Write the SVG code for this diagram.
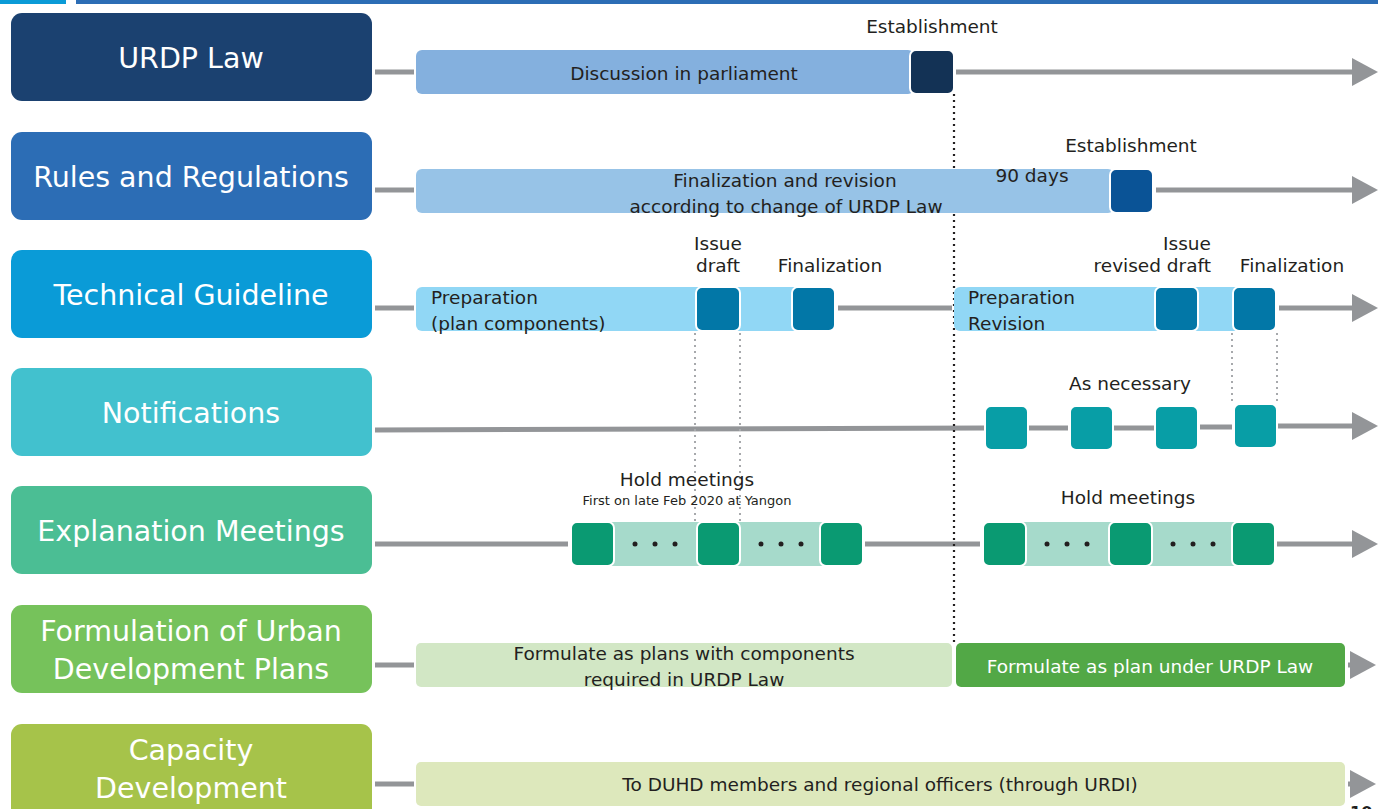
<svg xmlns="http://www.w3.org/2000/svg" width="1378" height="809" viewBox="0 0 1378 809">
<style>
.lbl{font-family:"DejaVu Sans","Noto Sans",sans-serif;font-size:28.5px;fill:#fff;text-anchor:middle;dominant-baseline:central}
.t{font-family:"DejaVu Sans","Noto Sans",sans-serif;font-size:18.5px;fill:#231F20;dominant-baseline:central}
.c{text-anchor:middle}
.ln{stroke:#939598;stroke-width:5;fill:none}
.sq{stroke:#fff;stroke-width:2}
.dot{fill:#231F20}
.gdot{stroke:#A7A9AC;stroke-width:2;stroke-dasharray:2 4;fill:none}
</style>
<defs>
<marker id="ah" viewBox="0 0 26 28" refX="0" refY="14" markerWidth="26" markerHeight="28" markerUnits="userSpaceOnUse" orient="auto">
<path d="M0,0 L26,14 L0,28 Z" fill="#939598"/>
</marker>
<marker id="bk" viewBox="0 0 14 14" refX="14" refY="7" markerWidth="14" markerHeight="14" markerUnits="userSpaceOnUse" orient="auto-start-reverse">
<path d="M0,0 L14,7 L0,14 Z" fill="#231F20"/>
</marker>
</defs>
<rect width="1378" height="809" fill="#fff"/>
<rect x="0" y="0" width="66" height="4" fill="#0A9BD7"/>
<rect x="76" y="0" width="1302" height="4" fill="#2C6DB5"/>

<g id="connectors">
<line class="ln" x1="375" y1="72" x2="414" y2="72"/>
<line class="ln" x1="956" y1="72" x2="1352" y2="72" marker-end="url(#ah)"/>
<line class="ln" x1="375" y1="190" x2="414" y2="190"/>
<line class="ln" x1="1156" y1="190" x2="1352" y2="190" marker-end="url(#ah)"/>
<line class="ln" x1="375" y1="308" x2="414" y2="308"/>
<line class="ln" x1="838" y1="308" x2="952" y2="308"/>
<line class="ln" x1="1279" y1="308" x2="1352" y2="308" marker-end="url(#ah)"/>
<line class="ln" x1="375" y1="430" x2="984" y2="428"/>
<line class="ln" x1="1029" y1="428" x2="1068" y2="428"/>
<line class="ln" x1="1114" y1="428" x2="1154" y2="428"/>
<line class="ln" x1="1200" y1="427" x2="1232" y2="427"/>
<line class="ln" x1="1278" y1="426" x2="1352" y2="426" marker-end="url(#ah)"/>
<line class="ln" x1="375" y1="544" x2="568" y2="544"/>
<line class="ln" x1="865" y1="544" x2="980" y2="544"/>
<line class="ln" x1="1277" y1="544" x2="1352" y2="544" marker-end="url(#ah)"/>
<line class="ln" x1="375" y1="665" x2="414" y2="665"/>
<line class="ln" x1="1348" y1="665" x2="1350" y2="665" marker-end="url(#ah)"/>
<line class="ln" x1="375" y1="784" x2="414" y2="784"/>
<line class="ln" x1="1348" y1="784" x2="1350" y2="784" marker-end="url(#ah)"/>
<line x1="954" y1="94" x2="954" y2="645" stroke="#231F20" stroke-width="2.2" stroke-dasharray="2 4"/>
<line class="gdot" x1="695" y1="333" x2="695" y2="521"/>
<line class="gdot" x1="740" y1="333" x2="740" y2="521"/>
<line class="gdot" x1="1232" y1="333" x2="1232" y2="404"/>
<line class="gdot" x1="1277" y1="333" x2="1277" y2="404"/>
<line x1="956" y1="200" x2="1108" y2="200" stroke="#231F20" stroke-width="2.5" marker-start="url(#bk)" marker-end="url(#bk)"/>
</g>

<g id="urdp-law">
<rect x="11" y="13" width="361" height="88" rx="11" fill="#1B4170"/>
<text class="lbl" x="191" y="58">URDP Law</text>
</g>
<g id="rules">
<rect x="11" y="132" width="361" height="88" rx="11" fill="#2C6DB5"/>
<text class="lbl" x="191" y="177">Rules and Regulations</text>
</g>
<g id="technical">
<rect x="11" y="250" width="361" height="88" rx="11" fill="#0A9BD7"/>
<text class="lbl" x="191" y="295">Technical Guideline</text>
</g>
<g id="notifications">
<rect x="11" y="368" width="361" height="88" rx="11" fill="#42C1CE"/>
<text class="lbl" x="191" y="413">Notifications</text>
</g>
<g id="explanation">
<rect x="11" y="486" width="361" height="88" rx="11" fill="#4BBE94"/>
<text class="lbl" x="191" y="531">Explanation Meetings</text>
</g>
<g id="formulation">
<rect x="11" y="605" width="361" height="88" rx="11" fill="#76C25B"/>
<text class="lbl" x="191" y="631">Formulation of Urban</text>
<text class="lbl" x="191" y="669">Development Plans</text>
</g>
<g id="capacity">
<rect x="11" y="724" width="361" height="100" rx="11" fill="#A6C34A"/>
<text class="lbl" x="191" y="750">Capacity</text>
<text class="lbl" x="191" y="788">Development</text>
</g>

<g id="row1">
<rect x="416" y="50" width="498" height="44" rx="6" fill="#84B0DE"/>
<text class="t c" x="684" y="73">Discussion in parliament</text>
<rect class="sq" x="910" y="50" width="44" height="44" rx="6" fill="#133255"/>
<text class="t c" x="932" y="26">Establishment</text>
</g>

<g id="row2">
<rect x="416" y="169" width="698" height="44" rx="6" fill="#97C3E7"/>
<text class="t c" x="785" y="180">Finalization and revision</text>
<text class="t c" x="786" y="206">according to change of URDP Law</text>
<text class="t c" x="1032" y="175">90 days</text>
<rect class="sq" x="1110" y="169" width="43" height="44" rx="6" fill="#0A5396"/>
<text class="t c" x="1131" y="145">Establishment</text>
</g>

<g id="row3">
<rect x="416" y="287" width="418" height="44" rx="6" fill="#91D7F5"/>
<text class="t" x="431" y="297">Preparation</text>
<text class="t" x="431" y="323">(plan components)</text>
<rect class="sq" x="696" y="287" width="44" height="44" rx="6" fill="#0277A7"/>
<rect class="sq" x="792" y="287" width="43" height="44" rx="6" fill="#0277A7"/>
<text class="t c" x="718" y="243">Issue</text>
<text class="t c" x="718" y="265">draft</text>
<text class="t c" x="830" y="265">Finalization</text>
<rect x="954" y="287" width="320" height="44" rx="6" fill="#91D7F5"/>
<text class="t" x="968" y="297">Preparation</text>
<text class="t" x="968" y="323">Revision</text>
<rect class="sq" x="1155" y="287" width="43" height="44" rx="6" fill="#0277A7"/>
<rect class="sq" x="1233" y="287" width="43" height="44" rx="6" fill="#0277A7"/>
<text class="t c" x="1187" y="243">Issue</text>
<text class="t" x="1211" y="265" text-anchor="end">revised draft</text>
<text class="t c" x="1292" y="265">Finalization</text>
</g>

<g id="row4">
<text class="t c" x="1130" y="383">As necessary</text>
<rect class="sq" x="985" y="406" width="43" height="44" rx="6" fill="#089EA6"/>
<rect class="sq" x="1070" y="406" width="43" height="44" rx="6" fill="#089EA6"/>
<rect class="sq" x="1155" y="406" width="43" height="44" rx="6" fill="#089EA6"/>
<rect class="sq" x="1234" y="404" width="43" height="44" rx="6" fill="#089EA6"/>
</g>

<g id="row5">
<text class="t c" x="687" y="479">Hold meetings</text>
<text class="t c" x="687" y="500" style="font-size:13px">First on late Feb 2020 at Yangon</text>
<rect x="610" y="522" width="90" height="44" fill="#A6DACB"/>
<rect x="736" y="522" width="88" height="44" fill="#A6DACB"/>
<rect class="sq" x="571" y="522" width="43" height="44" rx="6" fill="#0A9A72"/>
<rect class="sq" x="697" y="522" width="43" height="44" rx="6" fill="#0A9A72"/>
<rect class="sq" x="820" y="522" width="43" height="44" rx="6" fill="#0A9A72"/>
<circle class="dot" cx="635" cy="544" r="2.5"/><circle class="dot" cx="655" cy="544" r="2.5"/><circle class="dot" cx="675" cy="544" r="2.5"/>
<circle class="dot" cx="761" cy="544" r="2.5"/><circle class="dot" cx="781" cy="544" r="2.5"/><circle class="dot" cx="801" cy="544" r="2.5"/>
<text class="t c" x="1128" y="497">Hold meetings</text>
<rect x="1022" y="522" width="90" height="44" fill="#A6DACB"/>
<rect x="1148" y="522" width="88" height="44" fill="#A6DACB"/>
<rect class="sq" x="983" y="522" width="43" height="44" rx="6" fill="#0A9A72"/>
<rect class="sq" x="1109" y="522" width="43" height="44" rx="6" fill="#0A9A72"/>
<rect class="sq" x="1232" y="522" width="43" height="44" rx="6" fill="#0A9A72"/>
<circle class="dot" cx="1047" cy="544" r="2.5"/><circle class="dot" cx="1067" cy="544" r="2.5"/><circle class="dot" cx="1087" cy="544" r="2.5"/>
<circle class="dot" cx="1173" cy="544" r="2.5"/><circle class="dot" cx="1193" cy="544" r="2.5"/><circle class="dot" cx="1213" cy="544" r="2.5"/>
</g>

<g id="row6">
<rect x="416" y="643" width="536" height="44" rx="5" fill="#D2E7C5"/>
<text class="t c" x="684" y="653">Formulate as plans with components</text>
<text class="t c" x="684" y="679">required in URDP Law</text>
<rect x="956" y="643" width="389" height="44" rx="5" fill="#52A846"/>
<text class="t c" x="1150" y="666" style="fill:#fff">Formulate as plan under URDP Law</text>
</g>

<g id="row7">
<rect x="416" y="762" width="929" height="44" rx="5" fill="#DDE8BC"/>
<text class="t c" x="880" y="784">To DUHD members and regional officers (through URDI)</text>
<text x="1350" y="818" style="font-family:'DejaVu Sans',sans-serif;font-size:16px;font-weight:bold;fill:#231F20">10</text>
</g>
</svg>
